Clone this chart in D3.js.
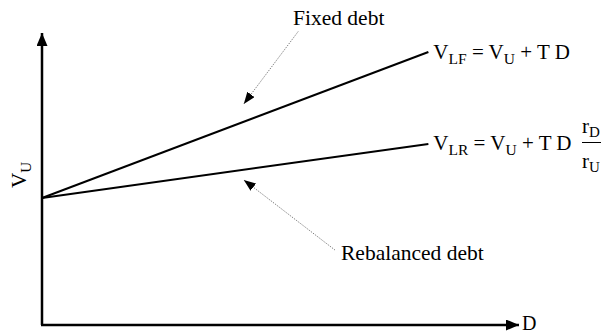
<!DOCTYPE html>
<html>
<head>
<meta charset="utf-8">
<script src="https://cdn.jsdelivr.net/npm/d3@7"></script>
<style>
  body { margin: 0; background: #fff; }
</style>
</head>
<body>
<div id="chart"></div>
<script>
var width  = 602;
var height = 335;
var serif  = "'Liberation Serif', 'Times New Roman', Times, 'DejaVu Serif', serif";

// debt level (x) and firm value (y) for the two lines
var debt            = [0, 8.1];
var fixedValue      = [4.35, 9.35];
var rebalancedValue = [4.35, 6.2];

// annotation arrows: [start, tip] in data units
var fixedArrow      = [[5.37, 10.05], [4.23, 7.57]];
var rebalancedArrow = [[6.14, 2.57], [4.23, 4.97]];

var svg = d3.select("#chart").append("svg")
  .attr("width", width)
  .attr("height", height)
  .style("font-family", serif);

var x = d3.scaleLinear().domain([0, 10]).range([42, 519]);
var y = d3.scaleLinear().domain([0, 10]).range([325, 33]);

var defs = svg.append("defs");
defs.append("marker")
  .attr("id", "axisHead")
  .attr("markerUnits", "userSpaceOnUse")
  .attr("viewBox", "0 0 13 11")
  .attr("refX", 13).attr("refY", 5.5)
  .attr("markerWidth", 13).attr("markerHeight", 11)
  .attr("orient", "auto")
  .append("path").attr("d", "M0,0L13,5.5L0,11Z").attr("fill", "#000");
defs.append("marker")
  .attr("id", "noteHead")
  .attr("markerUnits", "userSpaceOnUse")
  .attr("viewBox", "0 0 12 9")
  .attr("refX", 12).attr("refY", 4.5)
  .attr("markerWidth", 12).attr("markerHeight", 9)
  .attr("orient", "auto")
  .append("path").attr("d", "M0,0L12,4.5L0,9Z").attr("fill", "#000");

// axes
svg.append("line")
  .attr("x1", x(0)).attr("y1", y(0))
  .attr("x2", x(0)).attr("y2", y(10))
  .attr("stroke", "#000").attr("stroke-width", 2.5)
  .attr("marker-end", "url(#axisHead)");
svg.append("line")
  .attr("x1", x(0) - 1).attr("y1", y(0))
  .attr("x2", x(10)).attr("y2", y(0))
  .attr("stroke", "#000").attr("stroke-width", 2.5)
  .attr("marker-end", "url(#axisHead)");

// value lines
var line = d3.line()
  .x(function(d) { return x(d[0]); })
  .y(function(d) { return y(d[1]); });

[fixedValue, rebalancedValue].forEach(function(vals) {
  svg.append("path")
    .attr("d", line(d3.zip(debt, vals)))
    .attr("fill", "none")
    .attr("stroke", "#000")
    .attr("stroke-width", 2);
});

// dotted annotation arrows
[fixedArrow, rebalancedArrow].forEach(function(a) {
  svg.append("line")
    .attr("x1", x(a[0][0])).attr("y1", y(a[0][1]))
    .attr("x2", x(a[1][0])).attr("y2", y(a[1][1]))
    .attr("stroke", "#555").attr("stroke-width", 0.8)
    .attr("stroke-dasharray", "1.2,1.2")
    .attr("marker-end", "url(#noteHead)");
});

// labels
function label(xx, yy, s, size) {
  return svg.append("text").attr("x", xx).attr("y", yy)
    .style("font-family", serif).style("font-size", size || "21.5px").text(s);
}
label(293, 25, "Fixed debt");
label(341, 260, "Rebalanced debt");
label(x(10) + 3, y(0) + 5, "D", "20px");

// y label V_U
var yl = svg.append("text")
  .attr("transform", "translate(26,188) rotate(-90)")
  .style("font-family", serif).style("font-size", "21px");
yl.append("tspan").text("V");
yl.append("tspan").attr("dy", 5).style("font-size", "15px").text("U");

// formula helper
function formula(xx, yy, sub) {
  var t = svg.append("text").attr("x", xx).attr("y", yy)
    .style("font-family", serif).style("font-size", "21px");
  t.append("tspan").text("V");
  t.append("tspan").attr("dy", 5).style("font-size", "15.5px").text(sub);
  t.append("tspan").attr("dy", -5).text(" = V");
  t.append("tspan").attr("dy", 5).style("font-size", "15.5px").text("U");
  t.append("tspan").attr("dy", -5).text(" + T D");
  return t;
}
formula(x(debt[1]) + 5, y(fixedValue[1]) + 7, "LF");
formula(x(debt[1]) + 5, y(rebalancedValue[1]) + 6, "LR");

// fraction r_D / r_U
var fx = 582;
var num = svg.append("text").attr("x", fx).attr("y", 133)
  .style("font-family", serif).style("font-size", "21px");
num.append("tspan").text("r");
num.append("tspan").attr("dy", 4).style("font-size", "15px").text("D");
svg.append("line").attr("x1", fx).attr("x2", 601).attr("y1", 142.5).attr("y2", 142.5)
  .attr("stroke", "#000").attr("stroke-width", 1);
var den = svg.append("text").attr("x", fx).attr("y", 168)
  .style("font-family", serif).style("font-size", "21px");
den.append("tspan").text("r");
den.append("tspan").attr("dy", 4).style("font-size", "15px").text("U");
</script>
</body>
</html>
